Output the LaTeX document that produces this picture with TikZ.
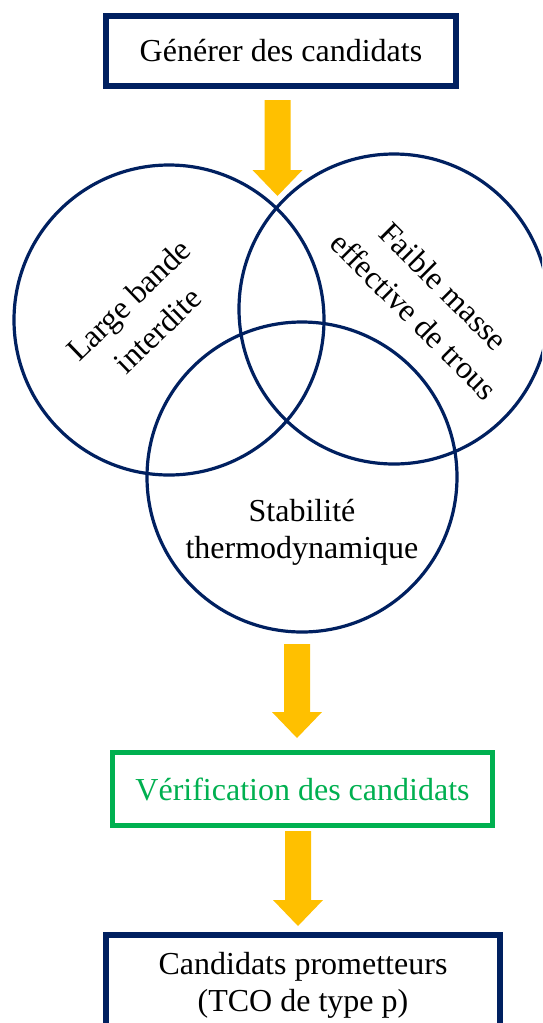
\documentclass[tikz,border=0pt]{standalone}
\usepackage{fontspec}
\setmainfont{Liberation Serif}
\usetikzlibrary{calc}
\definecolor{navy}{HTML}{002060}
\definecolor{vert}{HTML}{00B050}
\definecolor{jaune}{HTML}{FFC000}
\newcommand\blockarrow[2]{%
  \fill[jaune] ($(#1)+(-13,0)$) -- ($(#1)+(13,0)$) -- ($(#2)+(13,-26)$) -- ($(#2)+(25,-26)$)
    -- (#2) -- ($(#2)+(-25,-26)$) -- ($(#2)+(-13,-26)$) -- cycle;}
\begin{document}
\begin{tikzpicture}[x=1pt,y=-1pt,
  every node/.style={font=\fontsize{32}{37}\selectfont},
  rottext/.style={align=center, font=\fontsize{32}{42}\selectfont},
  box/.style={draw, inner sep=0pt, align=center},
  circ/.style={circle, draw=navy, line width=3.2pt, minimum size=310pt, inner sep=0pt}]
\useasboundingbox (0,0) rectangle (542,1023);
\clip (0,0) rectangle (542,1023);
\fill[white] (0,0) rectangle (542,1023);
% boxes
\node[box, draw=navy, line width=6pt, minimum width=350pt, minimum height=70pt] (gen) at (281,51) {Générer des candidats};
\node[box, draw=vert, text=vert, line width=5pt, minimum width=380pt, minimum height=73pt] (verif) at (302.5,789) {Vérification des candidats};
\node[box, draw=navy, line width=6pt, minimum width=394pt, minimum height=100pt] (cand) at (303,985) {Candidats prometteurs\\(TCO de type p)};
% circles
\node[circ] (cL) at (169,320) {};
\node[circ] (cR) at (394,309) {};
\node[circ] (cB) at (302,477) {};
\node[rotate=44, rottext] (tL) at (143,315) {Large bande\\interdite};
\node[rotate=-45, rottext] (tR) at (429,301) {Faible masse\\effective de trous};
\node[align=center] (tB) at (302,532) {Stabilité\\thermodynamique};
% arrows
\coordinate (a1s) at (277.5,100);
\coordinate (a1e) at (277.5,196);
\coordinate (a2s) at (297,644);
\coordinate (a2e) at (297,738);
\coordinate (a3s) at (298,831);
\coordinate (a3e) at (298,926);
\blockarrow{a1s}{a1e}
\blockarrow{a2s}{a2e}
\blockarrow{a3s}{a3e}
\end{tikzpicture}
\end{document}
